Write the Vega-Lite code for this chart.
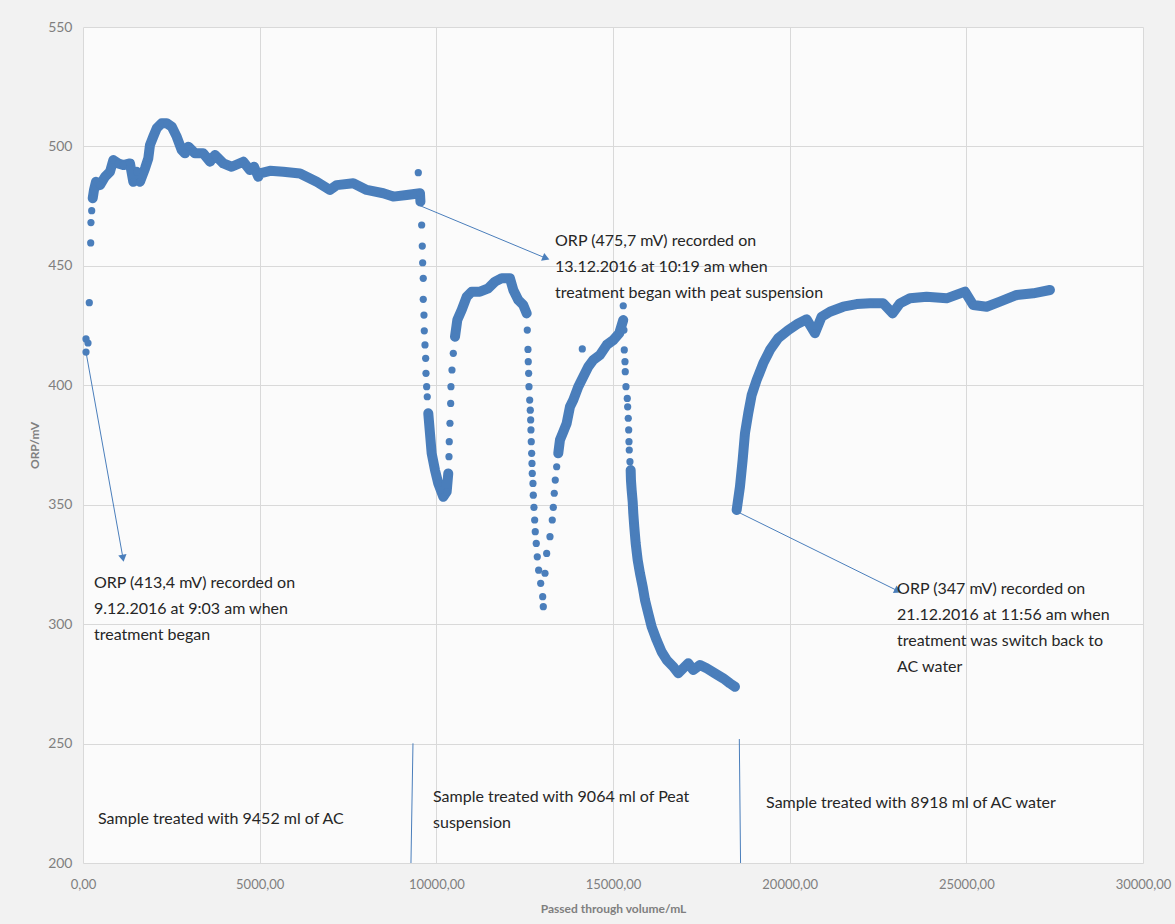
{
  "$schema": "https://vega.github.io/schema/vega-lite/v6.json",
  "width": 1060,
  "height": 836,
  "autosize": {"type": "none"},
  "padding": {"left": 83, "top": 27, "right": 32, "bottom": 61},
  "background": "#f2f2f2",
  "config": {
    "view": {"stroke": null, "fill": "#fbfbfb"},
    "font": "Lato",
    "axis": {"domain": false, "ticks": false, "labelFlush": false, "gridColor": "#d9d9d9", "gridWidth": 1, "labelColor": "#7f7f7f", "labelFont": "Lato", "titleColor": "#7f7f7f", "titleFont": "Lato", "titleFontWeight": "bold", "titleFontSize": 12}
  },
  "datasets": {
    "orp": [
      {"v":85,"orp":413.9,"run":0},{"v":85,"orp":419.4,"run":0},{"v":142,"orp":417.7,"run":0},{"v":178,"orp":434.6,"run":0},
      {"v":218,"orp":459.6,"run":0},{"v":225,"orp":468.1,"run":0},{"v":246,"orp":473.1,"run":0},
      {"v":275,"orp":478.3,"run":1},{"v":311,"orp":481.8,"run":1},{"v":368,"orp":485.2,"run":1},{"v":481,"orp":483.8,"run":1},
      {"v":623,"orp":487.3,"run":1},{"v":764,"orp":489.4,"run":1},{"v":858,"orp":494.3,"run":1},{"v":999,"orp":492.9,"run":1},
      {"v":1140,"orp":492.2,"run":1},{"v":1330,"orp":492.9,"run":1},{"v":1424,"orp":485.2,"run":1},{"v":1520,"orp":489.4,"run":1},
      {"v":1613,"orp":485.2,"run":1},{"v":1755,"orp":490.8,"run":1},{"v":1848,"orp":495,"run":1},{"v":1896,"orp":500.6,"run":1},
      {"v":1989,"orp":504.1,"run":1},{"v":2086,"orp":507.6,"run":1},{"v":2227,"orp":509.7,"run":1},{"v":2369,"orp":509.7,"run":1},
      {"v":2510,"orp":508.3,"run":1},{"v":2652,"orp":504.1,"run":1},{"v":2793,"orp":498.5,"run":1},{"v":2887,"orp":497.1,"run":1},
      {"v":2980,"orp":499.9,"run":1},{"v":3170,"orp":497.1,"run":1},{"v":3404,"orp":497.1,"run":1},{"v":3594,"orp":493.6,"run":1},
      {"v":3736,"orp":496.4,"run":1},{"v":3970,"orp":492.9,"run":1},{"v":4208,"orp":491.5,"run":1},{"v":4536,"orp":493.6,"run":1},
      {"v":4726,"orp":490.1,"run":1},{"v":4840,"orp":491.5,"run":1},{"v":4961,"orp":487.3,"run":1},{"v":5009,"orp":488.7,"run":1},
      {"v":5292,"orp":489.8,"run":1},{"v":5668,"orp":489.4,"run":1},{"v":6141,"orp":488.7,"run":1},{"v":6614,"orp":485.2,"run":1},
      {"v":6990,"orp":481.8,"run":1},{"v":7180,"orp":483.8,"run":1},{"v":7649,"orp":484.6,"run":1},{"v":8029,"orp":481.8,"run":1},
      {"v":8498,"orp":480.4,"run":1},{"v":8781,"orp":479,"run":1},{"v":9161,"orp":479.7,"run":1},{"v":9537,"orp":480.4,"run":1},
      {"v":9550,"orp":476.9,"run":1},
      {"v":9489,"orp":489,"run":0},
      {"v":9585,"orp":467.1,"run":0},{"v":9602,"orp":458.3,"run":0},{"v":9613,"orp":451.3,"run":0},{"v":9630,"orp":444.8,"run":0},
      {"v":9630,"orp":436,"run":0},{"v":9650,"orp":429.4,"run":0},{"v":9659,"orp":422.8,"run":0},{"v":9679,"orp":416.9,"run":0},
      {"v":9698,"orp":411.3,"run":0},{"v":9707,"orp":405,"run":0},{"v":9726,"orp":399.4,"run":0},{"v":9743,"orp":395.2,"run":0},
      {"v":9772,"orp":388.3,"run":2},{"v":9820,"orp":379.9,"run":2},{"v":9868,"orp":371.5,"run":2},{"v":9962,"orp":364.5,"run":2},
      {"v":10055,"orp":358.9,"run":2},{"v":10197,"orp":353.3,"run":2},{"v":10292,"orp":355.4,"run":2},{"v":10338,"orp":363.1,"run":2},
      {"v":10358,"orp":370.1,"run":0},{"v":10366,"orp":376.4,"run":0},{"v":10386,"orp":384.1,"run":0},{"v":10406,"orp":392.4,"run":0},
      {"v":10414,"orp":399.4,"run":0},{"v":10443,"orp":406.4,"run":0},{"v":10480,"orp":413.4,"run":0},
      {"v":10528,"orp":420.3,"run":3},{"v":10593,"orp":427.3,"run":3},{"v":10717,"orp":431.5,"run":3},{"v":10859,"orp":437.1,"run":3},
      {"v":11000,"orp":439.2,"run":3},{"v":11235,"orp":439.2,"run":3},{"v":11470,"orp":440.6,"run":3},{"v":11660,"orp":443.4,"run":3},
      {"v":11849,"orp":444.8,"run":3},{"v":12084,"orp":444.8,"run":3},{"v":12178,"orp":439.9,"run":3},{"v":12319,"orp":435.7,"run":3},
      {"v":12461,"orp":433.6,"run":3},{"v":12557,"orp":430.1,"run":3},
      {"v":12574,"orp":423.1,"run":0},{"v":12594,"orp":415,"run":0},{"v":12602,"orp":409.9,"run":0},{"v":12613,"orp":405,"run":0},
      {"v":12622,"orp":399.4,"run":0},{"v":12642,"orp":393.8,"run":0},{"v":12659,"orp":389.6,"run":0},{"v":12670,"orp":385.5,"run":0},
      {"v":12678,"orp":381.3,"run":0},{"v":12687,"orp":376.4,"run":0},{"v":12698,"orp":371.5,"run":0},{"v":12707,"orp":367.3,"run":0},
      {"v":12715,"orp":363.1,"run":0},{"v":12735,"orp":358.9,"run":0},{"v":12744,"orp":354,"run":0},{"v":12763,"orp":348.9,"run":0},
      {"v":12783,"orp":343.6,"run":0},{"v":12800,"orp":338.7,"run":0},{"v":12828,"orp":333.8,"run":0},{"v":12857,"orp":328.2,"run":0},
      {"v":12896,"orp":322.6,"run":0},{"v":12953,"orp":317.1,"run":0},{"v":13010,"orp":311.5,"run":0},{"v":13027,"orp":307.3,"run":0},
      {"v":13075,"orp":321.3,"run":0},{"v":13123,"orp":329.6,"run":0},{"v":13216,"orp":336.6,"run":0},{"v":13281,"orp":343.6,"run":0},
      {"v":13310,"orp":348.9,"run":0},{"v":13338,"orp":354.8,"run":0},{"v":13366,"orp":360.3,"run":0},{"v":13406,"orp":365.9,"run":0},
      {"v":13451,"orp":371.5,"run":4},{"v":13499,"orp":377.1,"run":4},{"v":13575,"orp":379.9,"run":4},{"v":13689,"orp":384.1,"run":4},
      {"v":13782,"orp":391,"run":4},{"v":13876,"orp":393.8,"run":4},{"v":14017,"orp":399.4,"run":4},{"v":14158,"orp":403.6,"run":4},
      {"v":14300,"orp":407.8,"run":4},{"v":14441,"orp":410.6,"run":4},{"v":14631,"orp":412.7,"run":4},{"v":14821,"orp":416.9,"run":4},
      {"v":15007,"orp":418.9,"run":4},{"v":15177,"orp":421.8,"run":4},{"v":15290,"orp":427.3,"run":4},
      {"v":15290,"orp":433.3,"run":0},{"v":14131,"orp":415.2,"run":0},
      {"v":15310,"orp":423.1,"run":0},{"v":15319,"orp":414.8,"run":0},{"v":15339,"orp":409.9,"run":0},{"v":15347,"orp":405.7,"run":0},
      {"v":15367,"orp":399.4,"run":0},{"v":15404,"orp":394.5,"run":0},{"v":15415,"orp":391,"run":0},{"v":15432,"orp":386.2,"run":0},
      {"v":15444,"orp":381.3,"run":0},{"v":15452,"orp":376.4,"run":0},{"v":15460,"orp":372.9,"run":0},{"v":15480,"orp":368,"run":0},
      {"v":15500,"orp":364.5,"run":5},{"v":15508,"orp":360.3,"run":5},{"v":15528,"orp":356.1,"run":5},{"v":15557,"orp":351.2,"run":5},
      {"v":15574,"orp":346.4,"run":5},{"v":15602,"orp":340.8,"run":5},{"v":15642,"orp":333.8,"run":5},{"v":15699,"orp":326.8,"run":5},
      {"v":15763,"orp":321.3,"run":5},{"v":15840,"orp":315.7,"run":5},{"v":15905,"orp":310.1,"run":5},{"v":15998,"orp":304.5,"run":5},
      {"v":16094,"orp":298.9,"run":5},{"v":16236,"orp":293.3,"run":5},{"v":16377,"orp":288.4,"run":5},{"v":16519,"orp":285,"run":5},
      {"v":16705,"orp":282.2,"run":5},{"v":16847,"orp":279.4,"run":5},{"v":16988,"orp":281.5,"run":5},{"v":17130,"orp":283.6,"run":5},
      {"v":17271,"orp":280.8,"run":5},{"v":17461,"orp":282.9,"run":5},{"v":17651,"orp":281.5,"run":5},{"v":17886,"orp":279.4,"run":5},
      {"v":18120,"orp":277.3,"run":5},{"v":18310,"orp":275.2,"run":5},{"v":18452,"orp":273.8,"run":5},
      {"v":18500,"orp":347.8,"run":6},{"v":18593,"orp":357.5,"run":6},{"v":18669,"orp":368.7,"run":6},{"v":18735,"orp":379.9,"run":6},
      {"v":18828,"orp":388.3,"run":6},{"v":18924,"orp":395.9,"run":6},{"v":19066,"orp":402.2,"run":6},{"v":19252,"orp":409.2,"run":6},
      {"v":19442,"orp":414.8,"run":6},{"v":19677,"orp":419.7,"run":6},{"v":19960,"orp":423.1,"run":6},{"v":20243,"orp":425.9,"run":6},
      {"v":20481,"orp":427.6,"run":6},{"v":20716,"orp":421.8,"run":6},{"v":20905,"orp":428.7,"run":6},{"v":21140,"orp":430.8,"run":6},
      {"v":21516,"orp":432.9,"run":6},{"v":21896,"orp":434,"run":6},{"v":22272,"orp":434.3,"run":6},{"v":22648,"orp":434.3,"run":6},
      {"v":22914,"orp":430.1,"run":6},{"v":23121,"orp":434.3,"run":6},{"v":23404,"orp":436.4,"run":6},{"v":23877,"orp":437.1,"run":6},
      {"v":24443,"orp":436.4,"run":6},{"v":24961,"orp":439.2,"run":6},{"v":25196,"orp":433.6,"run":6},{"v":25575,"orp":432.9,"run":6},
      {"v":25951,"orp":435,"run":6},{"v":26424,"orp":437.8,"run":6},{"v":26894,"orp":438.5,"run":6},{"v":27366,"orp":439.9,"run":6}
    ],
    "arrows": [
      {"id":"a1","v":85,"orp":413.9,"v2":1132,"orp2":327.6},
      {"id":"a2","v":9489,"orp":475.5,"v2":13104,"orp2":453.2},
      {"id":"a3","v":18500,"orp":347.2,"v2":23065,"orp2":313.9}
    ],
    "seps": [
      {"v":9339,"orp":250.1,"v2":9282,"orp2":200},
      {"v":18575,"orp":251.9,"v2":18610,"orp2":200}
    ],
    "notes": [
      {"v":311,"orp":320.6,"t":"ORP (413,4 mV) recorded on\n9.12.2016 at 9:03 am when\ntreatment began"},
      {"v":13360,"orp":463.7,"t":"ORP (475,7 mV) recorded on\n13.12.2016 at 10:19 am when\ntreatment began with peat suspension"},
      {"v":23040,"orp":318,"t":"ORP (347 mV) recorded on\n21.12.2016 at 11:56 am when\ntreatment was switch back to\nAC water"},
      {"v":425,"orp":221.7,"t":"Sample treated with 9452 ml of AC"},
      {"v":9907,"orp":230.9,"t":"Sample treated with 9064 ml of Peat\nsuspension"},
      {"v":19332,"orp":228.4,"t":"Sample treated with 8918 ml of AC water"}
    ]
  },
  "layer": [
    {
      "data": {"name": "orp"},
      "transform": [{"filter": "datum.run > 0"}],
      "mark": {"type": "line", "color": "#4a7ebb", "strokeWidth": 10, "strokeCap": "round", "strokeJoin": "round"},
      "encoding": {
        "x": {"field": "v", "type": "quantitative", "title": "Passed through volume/mL",
          "scale": {"domain": [0, 30000], "nice": false, "zero": false},
          "axis": {"values": [0, 5000, 10000, 15000, 20000, 25000, 30000], "labelExpr": "replace(format(datum.value, '.2f'), '.', ',')", "labelFontSize": 13, "labelPadding": 15, "titlePadding": 12}},
        "y": {"field": "orp", "type": "quantitative", "title": "ORP/mV",
          "scale": {"domain": [200, 550], "nice": false, "zero": false},
          "axis": {"values": [200, 250, 300, 350, 400, 450, 500, 550], "format": "d", "labelFontSize": 14, "labelPadding": 11, "titlePadding": 6}},
        "detail": {"field": "run", "type": "nominal"}
      }
    },
    {
      "data": {"name": "orp"},
      "mark": {"type": "point", "filled": true, "size": 52, "opacity": 1, "color": "#4a7ebb"},
      "encoding": {
        "x": {"field": "v", "type": "quantitative", "title": "Passed through volume/mL"},
        "y": {"field": "orp", "type": "quantitative", "title": "ORP/mV"}
      }
    },
    {
      "data": {"name": "arrows"},
      "mark": {"type": "rule", "color": "#4a7ebb", "strokeWidth": 1},
      "encoding": {
        "x": {"field": "v", "type": "quantitative", "title": "Passed through volume/mL"},
        "y": {"field": "orp", "type": "quantitative", "title": "ORP/mV"},
        "x2": {"field": "v2"},
        "y2": {"field": "orp2"}
      }
    },
    {
      "data": {"name": "arrows"},
      "transform": [{"filter": "datum.id == 'a1'"}],
      "mark": {"type": "point", "shape": "triangle-up", "filled": true, "size": 70, "opacity": 1, "color": "#4a7ebb", "angle": 170},
      "encoding": {
        "x": {"field": "v2", "type": "quantitative", "title": "Passed through volume/mL"},
        "y": {"field": "orp2", "type": "quantitative", "title": "ORP/mV"}
      }
    },
    {
      "data": {"name": "arrows"},
      "transform": [{"filter": "datum.id == 'a2'"}],
      "mark": {"type": "point", "shape": "triangle-up", "filled": true, "size": 70, "opacity": 1, "color": "#4a7ebb", "angle": 112},
      "encoding": {
        "x": {"field": "v2", "type": "quantitative", "title": "Passed through volume/mL"},
        "y": {"field": "orp2", "type": "quantitative", "title": "ORP/mV"}
      }
    },
    {
      "data": {"name": "arrows"},
      "transform": [{"filter": "datum.id == 'a3'"}],
      "mark": {"type": "point", "shape": "triangle-up", "filled": true, "size": 70, "opacity": 1, "color": "#4a7ebb", "angle": 116},
      "encoding": {
        "x": {"field": "v2", "type": "quantitative", "title": "Passed through volume/mL"},
        "y": {"field": "orp2", "type": "quantitative", "title": "ORP/mV"}
      }
    },
    {
      "data": {"name": "seps"},
      "mark": {"type": "rule", "color": "#4a7ebb", "strokeWidth": 1},
      "encoding": {
        "x": {"field": "v", "type": "quantitative", "title": "Passed through volume/mL"},
        "y": {"field": "orp", "type": "quantitative", "title": "ORP/mV"},
        "x2": {"field": "v2"},
        "y2": {"field": "orp2"}
      }
    },
    {
      "data": {"name": "notes"},
      "mark": {"type": "text", "align": "left", "baseline": "top", "fontSize": 16, "font": "Lato", "color": "#262626", "lineBreak": "\n", "lineHeight": 26},
      "encoding": {
        "x": {"field": "v", "type": "quantitative", "title": "Passed through volume/mL"},
        "y": {"field": "orp", "type": "quantitative", "title": "ORP/mV"},
        "text": {"field": "t", "type": "nominal"}
      }
    }
  ]
}
